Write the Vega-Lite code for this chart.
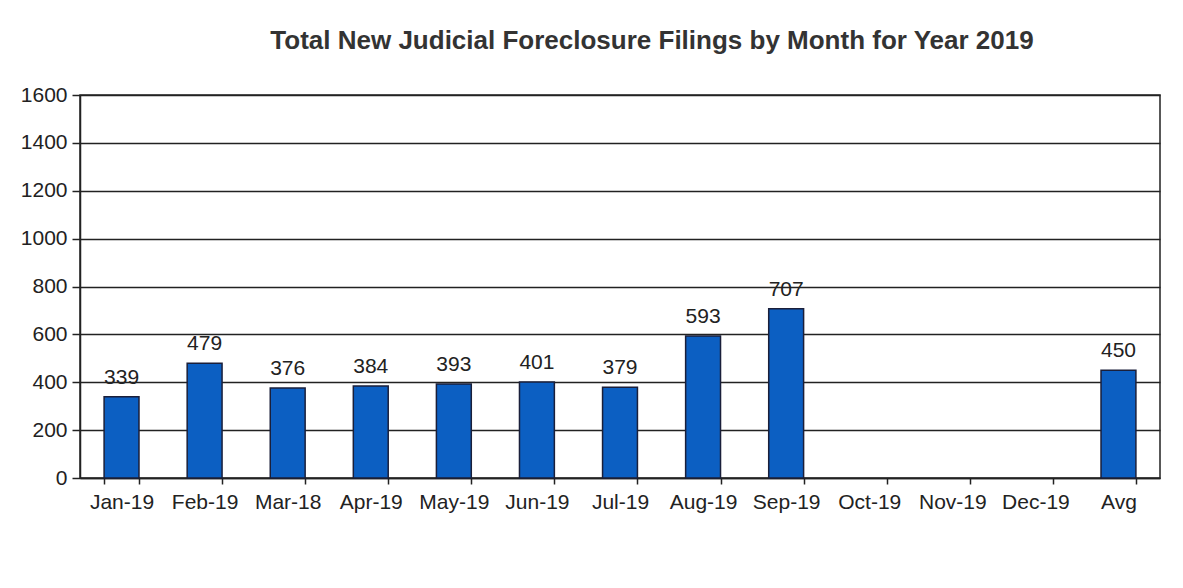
{
  "$schema": "https://vega.github.io/schema/vega-lite/v6.json",
  "width": 1080,
  "height": 383,
  "autosize": {"type": "none"},
  "padding": {"left": 80, "top": 95, "right": 23, "bottom": 110},
  "background": "white",
  "title": {
    "text": "Total New Judicial Foreclosure Filings by Month for Year 2019",
    "font": "Liberation Sans",
    "fontSize": 26,
    "fontWeight": "bold",
    "color": "#333333",
    "anchor": "middle",
    "dx": 32,
    "offset": 30
  },
  "data": {
    "values": [
      {"month": "Jan-19", "filings": 339},
      {"month": "Feb-19", "filings": 479},
      {"month": "Mar-18", "filings": 376},
      {"month": "Apr-19", "filings": 384},
      {"month": "May-19", "filings": 393},
      {"month": "Jun-19", "filings": 401},
      {"month": "Jul-19", "filings": 379},
      {"month": "Aug-19", "filings": 593},
      {"month": "Sep-19", "filings": 707},
      {"month": "Oct-19", "filings": null},
      {"month": "Nov-19", "filings": null},
      {"month": "Dec-19", "filings": null},
      {"month": "Avg", "filings": 450}
    ]
  },
  "encoding": {
    "x": {
      "field": "month",
      "type": "nominal",
      "sort": null,
      "scale": {
        "domain": ["Jan-19", "Feb-19", "Mar-18", "Apr-19", "May-19", "Jun-19", "Jul-19", "Aug-19", "Sep-19", "Oct-19", "Nov-19", "Dec-19", "Avg"],
        "paddingInner": 0.58,
        "paddingOuter": 0.29
      },
      "axis": {
        "title": null,
        "labelAngle": 0,
        "labelFont": "Liberation Sans",
        "labelFontSize": 21,
        "labelColor": "#222222",
        "labelPadding": 7,
        "tickBand": "extent",
        "tickSize": 6,
        "tickColor": "#222222",
        "tickWidth": 1.5,
        "domainColor": "#222222",
        "domainWidth": 1.5,
        "grid": false
      }
    },
    "y": {
      "field": "filings",
      "type": "quantitative",
      "scale": {"domain": [0, 1600], "nice": false},
      "axis": {
        "title": null,
        "values": [0, 200, 400, 600, 800, 1000, 1200, 1400, 1600],
        "format": "d",
        "labelFont": "Liberation Sans",
        "labelFontSize": 21,
        "labelColor": "#222222",
        "labelPadding": 5,
        "tickSize": 8,
        "tickColor": "#222222",
        "tickWidth": 1.5,
        "domainColor": "#222222",
        "domainWidth": 1.5,
        "grid": true,
        "gridColor": "#222222",
        "gridWidth": 1.5,
        "gridOpacity": 1
      }
    }
  },
  "layer": [
    {
      "mark": {"type": "bar", "color": "#0c5fc2", "stroke": "#1a1f3a", "strokeWidth": 1.5}
    },
    {
      "mark": {
        "type": "text",
        "baseline": "bottom",
        "dy": -9,
        "font": "Liberation Sans",
        "fontSize": 21,
        "color": "#222222"
      },
      "encoding": {"text": {"field": "filings", "type": "quantitative"}}
    }
  ],
  "config": {
    "view": {"stroke": "#222222", "strokeWidth": 1.5}
  }
}
